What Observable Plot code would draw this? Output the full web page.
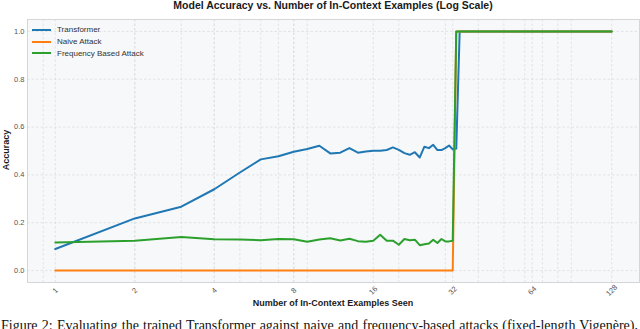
<!DOCTYPE html>
<html><head><meta charset="utf-8">
<script src="https://cdn.jsdelivr.net/npm/d3@7"></script>
<script src="https://cdn.jsdelivr.net/npm/@observablehq/plot@0.6"></script>
<style>
body{margin:0;background:#fff;font-family:"Liberation Sans",Arial,sans-serif;}
#wrap{position:relative;width:640px;height:329px;overflow:hidden;}
#chart{position:absolute;left:0;top:0;}
.t{position:absolute;white-space:nowrap;color:#1a1a1a;font-weight:bold;}
#title{left:333px;top:-1.5px;font-size:10.5px;line-height:12px;transform:translateX(-50%);}
#xlabel{left:333px;top:298px;font-size:9px;line-height:11px;transform:translateX(-50%);}
#ylabel{left:5.5px;top:150px;font-size:9px;line-height:11px;transform:translate(-50%,-50%) rotate(-90deg);}
#legend{position:absolute;left:32px;top:24px;font-size:8px;color:#333;}
.row{display:flex;align-items:center;height:11.8px;}
.sw{width:19px;height:2px;margin-right:6px;}
#caption{position:absolute;left:1px;top:318px;width:637px;font-family:"Liberation Serif","Times New Roman",serif;font-size:14px;line-height:16px;color:#111;white-space:nowrap;text-align:justify;text-align-last:justify;}
</style></head><body>
<div id="wrap">
  <div id="chart"></div>
  <div class="t" id="title">Model Accuracy vs. Number of In-Context Examples (Log Scale)</div>
  <div class="t" id="xlabel">Number of In-Context Examples Seen</div>
  <div class="t" id="ylabel">Accuracy</div>
  <div id="legend"></div>
  <div id="caption">Figure 2: Evaluating the trained Transformer against naive and frequency-based attacks (fixed-length Vigenère),</div>
</div>
<script>
const examples = [1,2,3,4,5,6,7,8,9,10,11,12,13,14,15,16,17,18,19,20,21,22,23,24,25,26,27,28,29,30,31,32,33,34,128];
const transformer = [0.090,0.218,0.267,0.340,0.410,0.465,0.478,0.497,0.508,0.522,0.490,0.493,0.512,0.493,0.498,0.501,0.501,0.504,0.515,0.505,0.491,0.484,0.495,0.473,0.518,0.512,0.526,0.504,0.504,0.512,0.523,0.507,0.510,1.0,1.0];
const naive = [0,0,0,0,0,0,0,0,0,0,0,0,0,0,0,0,0,0,0,0,0,0,0,0,0,0,0,0,0,0,0,0,1.0,1.0,1.0];
const frequency = [0.117,0.125,0.140,0.131,0.130,0.127,0.132,0.131,0.120,0.130,0.135,0.126,0.133,0.123,0.120,0.125,0.150,0.125,0.125,0.108,0.132,0.127,0.129,0.106,0.110,0.113,0.129,0.115,0.132,0.122,0.122,0.125,1.0,1.0,1.0];
const seriesNames = ["Transformer","Naive Attack","Frequency Based Attack"];
const seriesColors = ["#1f77b4","#ff7f0e","#2ca02c"];
const xTicks = [1,2,4,8,16,32,64,128];
const xMinorTicks = [0.9,2,3,4,5,6,7,8,9,20,30,40,50,60,70,80,90];
const yTicks = [0,0.2,0.4,0.6,0.8,1.0];

const seriesValues = [transformer, naive, frequency];
const rows = [];
seriesNames.forEach((name, i) => {
  examples.forEach((n, j) => rows.push({n, acc: seriesValues[i][j], series: name}));
});

const gridStyle = {stroke: "#d9dbde", strokeOpacity: 1, strokeWidth: 0.7, strokeDasharray: "2.5,2"};

const chart = Plot.plot({
  width: 640, height: 329,
  marginTop: 19, marginBottom: 47, marginLeft: 27, marginRight: 1,
  style: {background: "transparent", fontFamily: "'Liberation Sans', Arial, sans-serif", overflow: "visible"},
  x: {type: "log", domain: [Math.pow(2, -0.35), Math.pow(2, 7.35)], axis: null},
  y: {domain: [-0.05, 1.05]},
  color: {domain: seriesNames, range: seriesColors},
  marks: [
    Plot.frame({fill: "#f7f8fa", stroke: null}),
    Plot.gridX(xMinorTicks, gridStyle),
    Plot.gridX(xTicks, gridStyle),
    Plot.gridY(yTicks, gridStyle),
    Plot.frame({stroke: "#d4d6d9", strokeWidth: 1}),
    Plot.axisY(yTicks, {tickSize: 0, tickPadding: 3, tickFormat: d3.format(".1f"), fontSize: 7.5, fill: "#555", label: null}),
    Plot.text(xTicks, {x: d => d, text: d => String(d), frameAnchor: "bottom", dy: 8, rotate: -45, textAnchor: "middle", lineAnchor: "middle", fontSize: 7.5, fill: "#555"}),
    Plot.line(rows, {x: "n", y: "acc", z: "series", stroke: "series", strokeWidth: 2})
  ]
});
document.getElementById("chart").appendChild(chart);

const legend = document.getElementById("legend");
seriesNames.forEach((name, i) => {
  const row = document.createElement("div");
  row.className = "row";
  row.innerHTML = `<span class="sw" style="background:${seriesColors[i]}"></span><span>${name}</span>`;
  legend.appendChild(row);
});
</script>
</body></html>
